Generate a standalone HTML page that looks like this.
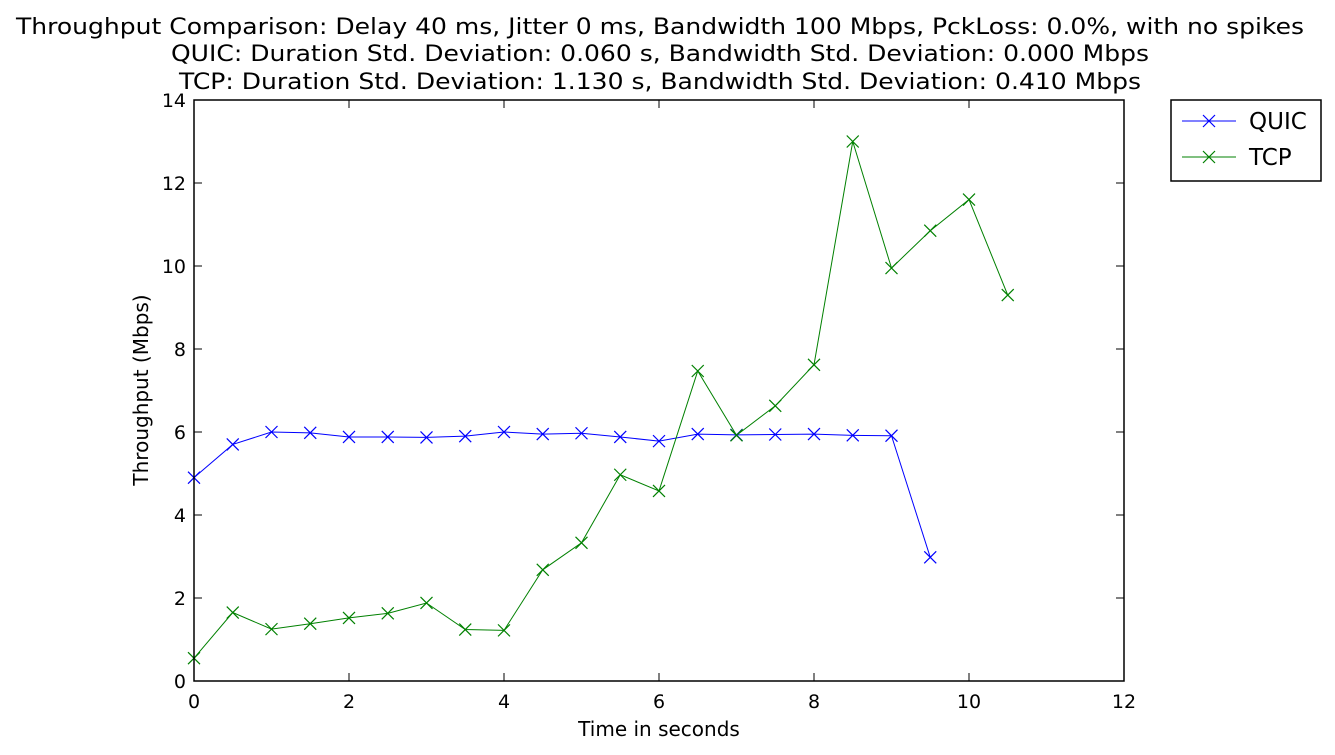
<!DOCTYPE html>
<html><head><meta charset="utf-8"><style>
body{margin:0;background:#fff;}
svg{display:block;font-family:"DejaVu Sans","Liberation Sans",sans-serif;}
</style></head><body>
<svg id="c" width="1335" height="755" xmlns="http://www.w3.org/2000/svg">
<g font-size="22" text-anchor="middle" fill="#000">
<text x="660" y="34" textLength="1288" lengthAdjust="spacingAndGlyphs">Throughput Comparison: Delay 40 ms, Jitter 0 ms, Bandwidth 100 Mbps, PckLoss: 0.0%, with no spikes</text>
<text x="660" y="61" textLength="978" lengthAdjust="spacingAndGlyphs">QUIC: Duration Std. Deviation: 0.060 s, Bandwidth Std. Deviation: 0.000 Mbps</text>
<text x="660" y="89" textLength="962" lengthAdjust="spacingAndGlyphs">TCP: Duration Std. Deviation: 1.130 s, Bandwidth Std. Deviation: 0.410 Mbps</text>
</g>
<text x="659" y="736" font-size="20" text-anchor="middle">Time in seconds</text>
<text transform="translate(148,390) rotate(-90)" font-size="20" text-anchor="middle">Throughput (Mbps)</text>
<g id="ticks"></g>
<g id="series"></g>
<rect x="194" y="100" width="930" height="581" fill="none" stroke="#000" stroke-width="1.5"/>
<g>
<rect x="1171" y="100" width="150" height="81" fill="#fff" stroke="#000" stroke-width="1.5"/>
<g>
<line x1="1182" y1="121" x2="1236" y2="121" stroke="#0000ff" stroke-width="1"/>
<path d="M1203,115 l12,12 M1215,115 l-12,12" stroke="#0000ff" stroke-width="1.2"/>
<text x="1249" y="129" font-size="23">QUIC</text>
</g>
<g>
<line x1="1182" y1="157" x2="1236" y2="157" stroke="#008000" stroke-width="1"/>
<path d="M1203,151 l12,12 M1215,151 l-12,12" stroke="#008000" stroke-width="1.2"/>
<text x="1249" y="165" font-size="23">TCP</text>
</g>
</g>
</svg>
<script>
const xTicks=[0,2,4,6,8,10,12];
const yTicks=[0,2,4,6,8,10,12,14];
const quicX=[0,0.5,1,1.5,2,2.5,3,3.5,4,4.5,5,5.5,6,6.5,7,7.5,8,8.5,9,9.5];
const quicY=[4.9,5.7,6.0,5.98,5.88,5.88,5.87,5.9,6.0,5.95,5.97,5.88,5.78,5.95,5.93,5.94,5.95,5.92,5.91,2.98];
const tcpX=[0,0.5,1,1.5,2,2.5,3,3.5,4,4.5,5,5.5,6,6.5,7,7.5,8,8.5,9,9.5,10,10.5];
const tcpY=[0.55,1.65,1.25,1.38,1.52,1.63,1.88,1.24,1.22,2.68,3.33,4.97,4.58,7.47,5.92,6.63,7.62,13.0,9.95,10.85,11.6,9.3];
const NS="http://www.w3.org/2000/svg";
const X0=194,X1=1124,Y0=681,Y1=100;
function sx(v){return X0+(v-0)/(12-0)*(X1-X0);}
function sy(v){return Y0-(v-0)/(14-0)*(Y0-Y1);}
function mk(t,a){const e=document.createElementNS(NS,t);for(const k in a)e.setAttribute(k,a[k]);return e;}
const tg=document.getElementById('ticks');
xTicks.forEach(v=>{
  const x=sx(v);
  const l=mk('path',{d:`M${x},${Y0} v-8 M${x},${Y1} v8`,stroke:'#000','stroke-width':1});
  
  
  tg.appendChild(l);
  const t=mk('text',{x:x,y:Y0+27,'font-size':19,'text-anchor':'middle'});
  t.textContent=v;
  
  
  tg.appendChild(t);
});
yTicks.forEach(v=>{
  const y=sy(v);
  const l=mk('path',{d:`M${X0},${y} h8 M${X1},${y} h-8`,stroke:'#000','stroke-width':1});
  
  
  tg.appendChild(l);
  const t=mk('text',{x:X0-8,y:y+7,'font-size':19,'text-anchor':'end'});
  t.textContent=v;
  
  
  tg.appendChild(t);
});
const sg=document.getElementById('series');
function draw(xs,ys,col,name){
  const g=mk('g',{});
  
  
  const pts=xs.map((x,i)=>sx(x)+','+sy(ys[i])).join(' ');
  const pl=mk('polyline',{points:pts,fill:'none',stroke:col,'stroke-width':1});
  
  
  g.appendChild(pl);
  xs.forEach((x,i)=>{
    const px=sx(x),py=sy(ys[i]);
    const m=mk('path',{d:`M${px-6},${py-6} l12,12 M${px+6},${py-6} l-12,12`,stroke:col,'stroke-width':1.2});
    
    
    g.appendChild(m);
  });
  sg.appendChild(g);
}
draw(quicX,quicY,'#0000ff','quic');
draw(tcpX,tcpY,'#008000','tcp');
</script>
</body></html>
